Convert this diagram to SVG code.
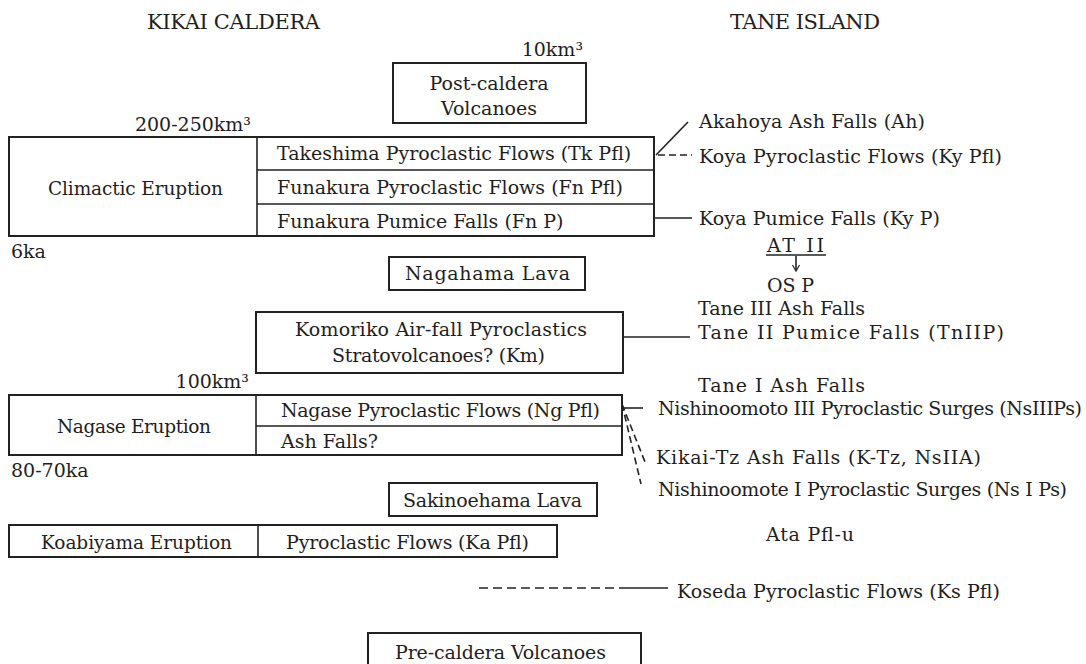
<svg xmlns="http://www.w3.org/2000/svg" width="1086" height="664" viewBox="0 0 1086 664">
<defs>
<style>
.t{font-family:"DejaVu Serif","Liberation Serif",serif;font-size:19px;fill:#1e1e1e}
.s{font-size:18.5px}
.h{font-size:21px}
.m{text-anchor:middle}
.e{text-anchor:end}
.box{fill:none;stroke:#222;stroke-width:2}
.ln{stroke:#222;stroke-width:1.6;fill:none}
.dash{stroke-dasharray:9 5}
.dsh{stroke-dasharray:7 4}
</style>
<marker id="ah" markerWidth="8" markerHeight="8" refX="7" refY="4" orient="auto" markerUnits="userSpaceOnUse"><path d="M1,0.5 L7,4 L1,7.5" fill="none" stroke="#222" stroke-width="1.2"/></marker>
</defs>
<rect width="1086" height="664" fill="#fff"/>
<g id="titles">
<text class="t h" x="147" y="29" textLength="173">KIKAI CALDERA</text>
<text class="t h" x="730" y="29" textLength="150">TANE ISLAND</text>
</g>
<g id="post-caldera">
<rect class="box" x="393" y="63" width="193" height="60"/>
<text class="t m" x="489" y="90">Post-caldera</text>
<text class="t m" x="489" y="115">Volcanoes</text>
<text class="t e" x="583" y="56">10km³</text>
</g>
<g id="climactic">
<rect class="box" x="9" y="137" width="645" height="99"/>
<path class="ln" d="M257,137V236M257,170H654M257,204H654"/>
<text class="t s" x="48" y="195" textLength="175">Climactic Eruption</text>
<text class="t" x="277" y="160">Takeshima Pyroclastic Flows (Tk Pfl)</text>
<text class="t" x="277" y="194">Funakura Pyroclastic Flows (Fn Pfl)</text>
<text class="t" x="277" y="228">Funakura Pumice Falls (Fn P)</text>
<text class="t e" x="251" y="131">200-250km³</text>
<text class="t" x="11" y="258">6ka</text>
</g>
<g id="nagahama">
<rect class="box" x="389" y="257" width="196" height="33"/>
<text class="t" x="405" y="280" textLength="165">Nagahama Lava</text>
</g>
<g id="komoriko">
<rect class="box" x="256" y="312" width="367" height="61"/>
<text class="t" x="295" y="336" textLength="292">Komoriko Air-fall Pyroclastics</text>
<text class="t" x="332" y="362" textLength="213">Stratovolcanoes? (Km)</text>
</g>
<g id="nagase">
<rect class="box" x="9" y="395" width="613" height="60"/>
<path class="ln" d="M256,395V455M256,426H622"/>
<text class="t s" x="57" y="433" textLength="154">Nagase Eruption</text>
<text class="t" x="281" y="417" textLength="319">Nagase Pyroclastic Flows (Ng Pfl)</text>
<text class="t" x="281" y="448">Ash Falls?</text>
<text class="t e" x="249" y="388">100km³</text>
<text class="t" x="11" y="477">80-70ka</text>
</g>
<g id="sakinoehama">
<rect class="box" x="389" y="483" width="208" height="33"/>
<text class="t" x="403" y="507" textLength="179">Sakinoehama Lava</text>
</g>
<g id="koabiyama">
<rect class="box" x="9" y="525" width="548" height="32"/>
<path class="ln" d="M258,525V557"/>
<text class="t s" x="41" y="549" textLength="191">Koabiyama Eruption</text>
<text class="t" x="286" y="549" textLength="243">Pyroclastic Flows (Ka Pfl)</text>
</g>
<g id="pre-caldera">
<rect class="box" x="368" y="633" width="273" height="34"/>
<text class="t" x="395" y="659" textLength="211">Pre-caldera Volcanoes</text>
</g>
<g id="tane">
<text class="t" x="699" y="128" textLength="226">Akahoya Ash Falls (Ah)</text>
<text class="t" x="699" y="163" textLength="303">Koya Pyroclastic Flows (Ky Pfl)</text>
<text class="t" x="699" y="225" textLength="241">Koya Pumice Falls (Ky P)</text>
<text class="t" x="767" y="252" textLength="57">AT II</text>
<text class="t" x="767" y="292" textLength="47">OS P</text>
<text class="t" x="698" y="315" textLength="167">Tane III Ash Falls</text>
<text class="t" x="698" y="339" textLength="306">Tane II Pumice Falls (TnIIP)</text>
<text class="t" x="698" y="392" textLength="167">Tane I Ash Falls</text>
<text class="t" x="658" y="415" textLength="424">Nishinoomoto III Pyroclastic Surges (NsIIIPs)</text>
<text class="t" x="656" y="464" textLength="325">Kikai-Tz Ash Falls (K-Tz, NsIIA)</text>
<text class="t" x="658" y="496" textLength="409">Nishinoomote I Pyroclastic Surges (Ns I Ps)</text>
<text class="t" x="766" y="541" textLength="88">Ata Pfl-u</text>
<text class="t" x="677" y="598" textLength="323">Koseda Pyroclastic Flows (Ks Pfl)</text>
</g>
<g id="connectors">
<path class="ln" d="M656,155L688,122"/>
<path class="ln dsh" d="M658,155H692"/>
<path class="ln" d="M654,218H692"/>
<path class="ln" d="M766,255H826"/>
<path class="ln" d="M796,256V271" marker-end="url(#ah)"/>
<path class="ln" d="M623,337H690"/>
<path class="ln" d="M622,408H643"/>
<path class="ln dsh" d="M622,404L645,462M622,404L641,484"/>
<path class="ln dash" d="M479,588H620"/>
<path class="ln" d="M620,588H668"/>
</g>
</svg>
